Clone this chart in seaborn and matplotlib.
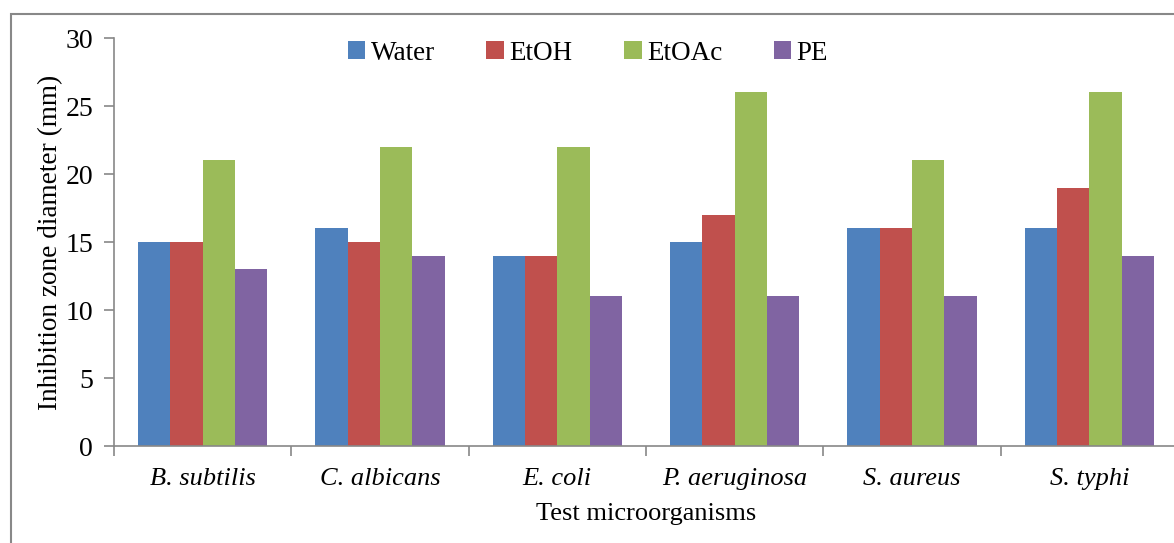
import matplotlib
matplotlib.use("Agg")
import matplotlib.pyplot as plt
import seaborn as sns
import pandas as pd
from matplotlib.patches import Rectangle

organisms = ["B. subtilis", "C. albicans", "E. coli", "P. aeruginosa", "S. aureus", "S. typhi"]
solvents = ["Water", "EtOH", "EtOAc", "PE"]
water = [15, 16, 14, 15, 16, 16]
etoh = [15, 15, 14, 17, 16, 19]
etoac = [21, 22, 22, 26, 21, 26]
pe = [13, 14, 11, 11, 11, 14]
colors = ["#4F81BD", "#C0504D", "#9BBB59", "#8064A2"]

rows = []
for name, vals in zip(solvents, [water, etoh, etoac, pe]):
    for org, v in zip(organisms, vals):
        rows.append({"Organism": org, "Solvent": name, "Value": v})
df = pd.DataFrame(rows)

sns.set_theme(style="white")
plt.rcParams["font.family"] = ["Liberation Serif", "DejaVu Serif"]
plt.rcParams["text.color"] = "black"
plt.rcParams["axes.labelcolor"] = "black"
plt.rcParams["xtick.labelcolor"] = "black"
plt.rcParams["ytick.labelcolor"] = "black"

fig = plt.figure(figsize=(11.74, 5.43), dpi=100)
ax = fig.add_axes([114/1174, 1-446/543, (1178-114)/1174, (446-38)/543])

sns.barplot(data=df, x="Organism", y="Value", hue="Solvent", hue_order=solvents,
            order=organisms, palette=colors, width=0.73, saturation=1,
            edgecolor="none", linewidth=0, ax=ax, legend=True)

ax.set_ylim(0, 30)
ax.set_xlim(-0.5, 5.5)
ax.set_yticks([0, 5, 10, 15, 20, 25, 30])
ax.set_xticks(range(6))
ax.set_xticklabels(organisms, fontstyle="italic", fontsize=19)
ax.tick_params(axis="x", length=0, pad=16)
ax.set_xticks([i + 0.5 for i in range(-1, 6)], minor=True)
ax.tick_params(axis="x", which="minor", length=7, width=1.2, color="#888888", direction="out", bottom=True)
ax.tick_params(axis="y", length=7, width=1.2, color="#888888", direction="out", left=True,
               labelsize=20, pad=8, labelcolor="black")
for s in ["top", "right"]:
    ax.spines[s].set_visible(False)
for s in ["left", "bottom"]:
    ax.spines[s].set_color("#888888")
    ax.spines[s].set_linewidth(1.2)

ax.set_xlabel("Test microorganisms", fontsize=19, labelpad=9, color="black")
ax.set_ylabel("Inhibition zone diameter (mm)", fontsize=19.6, labelpad=2, color="black")

leg = ax.legend(loc="center", bbox_to_anchor=(588/1174, 1 - 53/543), bbox_transform=fig.transFigure,
                ncol=4, frameon=False, fontsize=19.5, handlelength=0.65, handleheight=0.65,
                handletextpad=0.2, columnspacing=1.9)
for t in leg.get_texts():
    t.set_color("black")

fig.patches.append(Rectangle((11/1174, -0.1), 1.2, 1 - 14/543 + 0.1, transform=fig.transFigure,
                             fill=False, edgecolor="#888888", linewidth=1.5))

fig.savefig("out.png", dpi=100)
